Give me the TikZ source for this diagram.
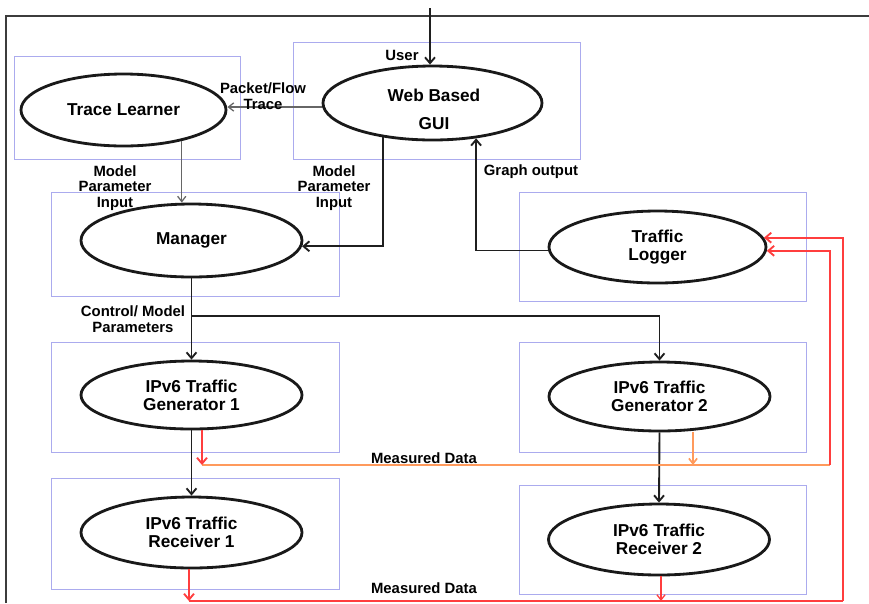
\documentclass[tikz,border=0pt]{standalone}
\usepackage{fontspec}
\setmainfont{Liberation Sans}
\usetikzlibrary{shapes.geometric,arrows.meta}
\definecolor{boxblue}{HTML}{ABABEE}
\definecolor{flowred}{HTML}{FF3E3E}
\definecolor{floworange}{HTML}{FF9A5C}
\definecolor{linegray}{HTML}{666666}
\definecolor{framegray}{HTML}{3C3C3C}

\begin{document}
\begin{tikzpicture}[x=0.03cm,y=-0.03cm,
  unit/.style={draw=black!90,line width=2.4pt,ellipse,inner sep=0pt,align=center,
    minimum width=6.63cm,minimum height=2.13cm,
    font=\bfseries\fontsize{14.7}{15.4}\selectfont},
  module/.style={draw=boxblue,line width=0.8pt},
  lbl/.style={align=center,inner sep=0pt,font=\bfseries\fontsize{12.7}{13.2}\selectfont},
  barb/.style={-{Straight Barb[length=5pt,width=8.5pt]}},
  thinbarb/.style={-{Straight Barb[length=4.5pt,width=7pt]}},
  ctrl/.style={draw=black!88,line width=1.6pt},
  trace/.style={draw=linegray,line width=1.1pt,thinbarb},
  redflow/.style={draw=flowred,line width=1.6pt},
  orangeflow/.style={draw=floworange,line width=1.4pt},
]
\useasboundingbox (0,0) rectangle (869,603);

% outer frame
\draw[framegray,line width=2pt] (6,603) -- (6,16) -- (869,16);

% module boxes
\draw[module] (14,56) rectangle (240,159);
\draw[module] (293,42) rectangle (580,159);
\draw[module] (51,192) rectangle (339,296);
\draw[module] (519,192) rectangle (806,301);
\draw[module] (51,342) rectangle (339,452);
\draw[module] (519,342) rectangle (806,452);
\draw[module] (51,478) rectangle (339,589);
\draw[module] (519,485) rectangle (806,594);

% components
\node[unit,minimum width=6.57cm,minimum height=2.22cm] (gui) at (432.5,103) {};
\node[font=\bfseries\fontsize{14.7}{15.4}\selectfont,align=center,inner sep=0pt] (guitext) at (434,109) {Web Based\\[8.5pt]GUI};
\node[unit,minimum width=6.15cm,minimum height=2.16cm] (tl) at (123.5,110) {Trace Learner};
\node[unit,minimum height=2.19cm] (mgr) at (191.5,240.5) {Manager};
\node[unit,minimum width=6.51cm,minimum height=2.16cm] (log) at (657.5,247) {Traffic\\Logger};
\node[unit,minimum height=2.04cm] (g1) at (191.5,395) {IPv6 Traffic\\Generator 1};
\node[unit,minimum height=2.07cm] (g2) at (659.5,396.5) {IPv6 Traffic\\Generator 2};
\node[unit] (r1) at (191.5,532.5) {IPv6 Traffic\\Receiver 1};
\node[unit] (r2) at (659,539.5) {IPv6 Traffic\\Receiver 2};

% user input
\coordinate (usr) at (430,8);
\draw[ctrl,barb] (usr) -- (usr |- gui.north);
\node[lbl] (userlbl) at (402,55) {User};

% trace and model parameter paths
\coordinate (tracey) at (0,107);
\draw[trace] (gui.west |- tracey) -- (tl.east |- tracey);
\node[lbl] (tracelbl) at (263,96) {Packet/Flow\\Trace};
\draw[trace] (tl.-28) -- (tl.-28 |- mgr.north);
\node[lbl] (mpin1) at (115,188) {Model\\Parameter\\Input};
\draw[ctrl,barb] (gui.-145) |- (mgr.-3.4);
\node[lbl] (mpin2) at (334,188) {Model\\Parameter\\Input};

% graph output
\coordinate (graphy) at (0,250.5);
\draw[ctrl,barb] (log.west |- graphy) -| (gui.-39.5);
\node[lbl] (graphlbl) at (531,172) {Graph output};

% control / model parameters to the generators
\coordinate (split) at (191.5,316);
\draw[ctrl,barb] (mgr.south) -- (g1.north);
\draw[ctrl,barb] (split) -| (g2.north);
\node[lbl] (ctrllbl) at (133,319) {Control/ Model\\Parameters};

% generators to receivers
\draw[ctrl,barb] (g1.south) -- (r1.north);
\draw[ctrl,barb] (g2.south) -- (r2.north);

% measured data from the generators
\coordinate (m1) at (202,465);
\coordinate (m2) at (693,465);
\coordinate (c1) at (830,465);
\draw[orangeflow] (m1) -- (c1);
\draw[redflow,barb] (g1.south -| m1) -- (m1);
\draw[orangeflow,thinbarb] (g2.south -| m2) -- (m2);
\draw[redflow,barb] (c1) |- (log.-2);
\node[lbl] (meas1) at (424,458) {Measured Data};

% measured data from the receivers
\coordinate (m3) at (189,601);
\coordinate (m4) at (661,601);
\coordinate (c2) at (843,601);
\draw[redflow] (m3) -- (c2);
\draw[redflow,barb] (r1.south -| m3) -- (m3);
\draw[redflow,line width=1.1pt,thinbarb] (r2.south -| m4) -- (m4);
\draw[redflow,barb] (c2) |- (log.5.4);
\node[lbl] (meas2) at (424,588) {Measured Data};
\end{tikzpicture}
\end{document}
